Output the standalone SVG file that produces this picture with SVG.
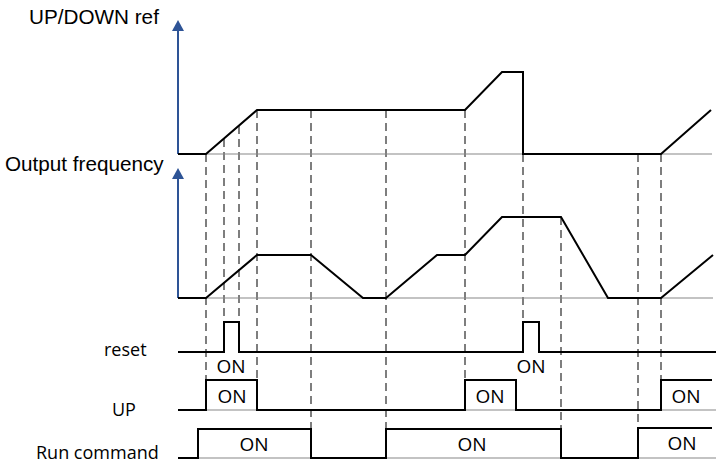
<svg xmlns="http://www.w3.org/2000/svg" width="717" height="464" viewBox="0 0 717 464">
<style>
.title{font-family:"Liberation Sans",Arial,sans-serif;font-size:20.7px;fill:#000}
.lbl{font-family:"Open Sans","Noto Sans",sans-serif;font-size:18px;fill:#000}
.on{font-family:"Open Sans","Noto Sans",sans-serif;font-size:19px;fill:#000;text-anchor:middle}
.sig{fill:none;stroke:#000;stroke-width:2;stroke-linejoin:miter}
.base{fill:none;stroke:#888;stroke-width:1.2}
.dash{fill:none;stroke:#3a3a3a;stroke-width:1.3;stroke-dasharray:8 5}
.axis{fill:none;stroke:#2E5496;stroke-width:2}
.head{fill:#2E5496}
</style>
<g id="titles">
<text class="title" x="29" y="24">UP/DOWN ref</text>
<text class="title" x="5" y="171">Output frequency</text>
</g>
<g id="axes">
<line class="axis" x1="178" y1="154" x2="178" y2="30"/>
<polygon class="head" points="172,31 184,31 178,20"/>
<line class="axis" x1="178" y1="298" x2="178" y2="178"/>
<polygon class="head" points="172,179 184,179 178,168"/>
</g>
<g id="connectors">
<line class="dash" x1="206" y1="154" x2="206" y2="380"/>
<line class="dash" x1="224" y1="139" x2="224" y2="322"/>
<line class="dash" x1="239" y1="126" x2="239" y2="322"/>
<line class="dash" x1="257" y1="110" x2="257" y2="380"/>
<line class="dash" x1="311" y1="110" x2="311" y2="429"/>
<line class="dash" x1="386" y1="110" x2="386" y2="429"/>
<line class="dash" x1="465" y1="110" x2="465" y2="380"/>
<line class="dash" x1="523" y1="154" x2="523" y2="322"/>
<line class="dash" x1="561" y1="217" x2="561" y2="429"/>
<line class="dash" x1="638" y1="154" x2="638" y2="428"/>
<line class="dash" x1="661" y1="154" x2="661" y2="380"/>
</g>
<g id="updown-ref">
<line class="base" x1="178" y1="154" x2="712" y2="154"/>
<path class="sig" d="M178,154 H206 L257,110 H465 L502,72 H523 V154 H661 L711,110"/>
</g>
<g id="output-frequency">
<line class="base" x1="178" y1="298" x2="713" y2="298"/>
<path class="sig" d="M178,298 H206 L257,255 H311 L363,298 H386 L437,255 H465 L502,217 H561 L608,298 H661 L713,255"/>
</g>
<g id="reset">
<text class="lbl" x="104" y="356">reset</text>
<path class="sig" d="M178,352 H224 V322 H239 V352 H523 V322 H539 V352 H716"/>
<text class="on" x="231" y="373">ON</text>
<text class="on" x="531" y="373">ON</text>
</g>
<g id="up">
<text class="lbl" x="112" y="416">UP</text>
<line class="base" x1="178" y1="410" x2="716" y2="410"/>
<path class="sig" d="M178,410 H206 V380 H257 V410 H465 V380 H516 V410 H661 V380 H712"/>
<text class="on" x="232" y="403">ON</text>
<text class="on" x="490" y="403">ON</text>
<text class="on" x="686" y="403">ON</text>
</g>
<g id="run-command">
<text class="lbl" x="36" y="459">Run command</text>
<line class="base" x1="178" y1="458" x2="716" y2="458"/>
<path class="sig" d="M178,458 H198 V429 H311 V458 H386 V429 H561 V458 H638 V428 H712"/>
<text class="on" x="254" y="451">ON</text>
<text class="on" x="472" y="451">ON</text>
<text class="on" x="682" y="450">ON</text>
</g>
</svg>
